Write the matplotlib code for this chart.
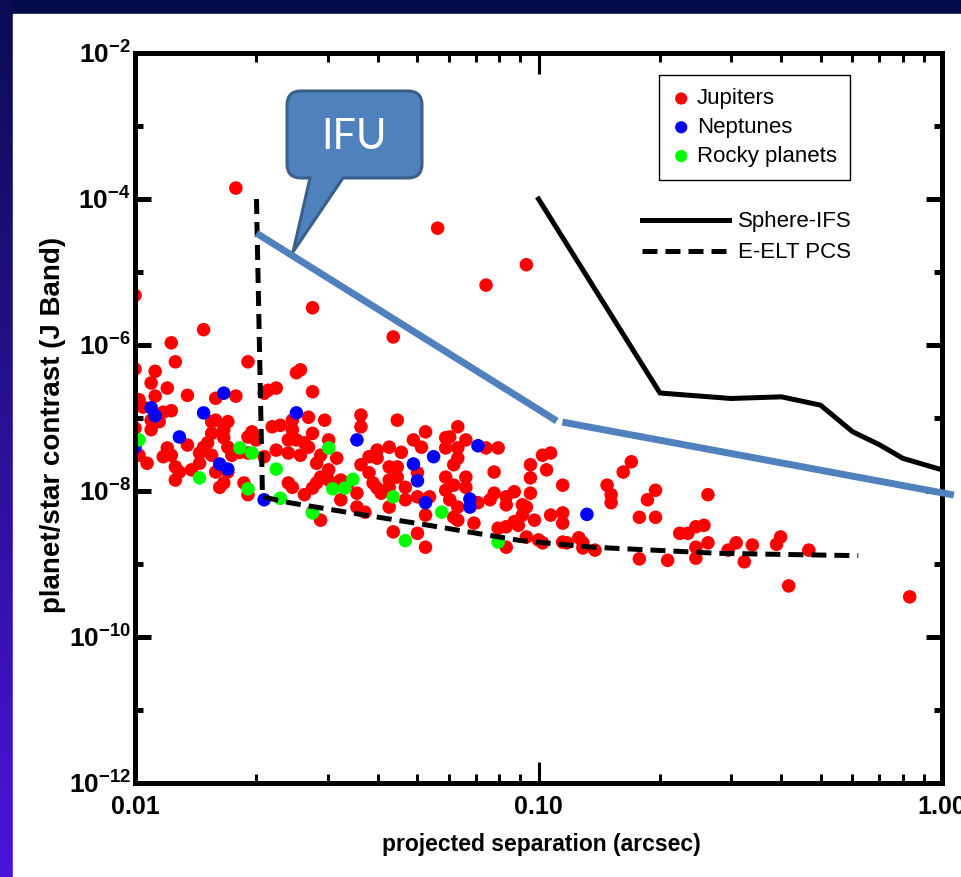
import numpy as np
import matplotlib
matplotlib.use('Agg')
import matplotlib.pyplot as plt
import matplotlib.transforms as mtransforms
from matplotlib.path import Path
from matplotlib.patches import PathPatch, Rectangle
from matplotlib.colors import LinearSegmentedColormap
from matplotlib.ticker import FixedLocator, NullFormatter

plt.rcParams['font.family'] = ['Liberation Sans', 'DejaVu Sans']
plt.rcParams['mathtext.fontset'] = 'custom'
plt.rcParams['mathtext.rm'] = 'Liberation Sans:bold'
plt.rcParams['mathtext.bf'] = 'Liberation Sans:bold'

# planets: log10(separation / arcsec), log10(contrast)
jup_logsep = [-1.91, -1.90, -2.00, -1.95, -1.72, -1.60, -1.59, -1.96, -1.92, -1.95,
              -1.99, -1.98, -1.87, -1.80, -1.75, -1.68, -1.67, -1.65, -1.56, -1.93,
              -1.91, -1.96, -1.94, -2.00, -1.96, -1.81, -1.80, -1.77, -1.81, -1.78,
              -1.78, -1.83, -1.82, -1.87, -1.92, -1.93, -1.91, -1.97, -1.99, -1.90,
              -1.89, -1.90, -1.86, -1.84, -1.84, -1.81, -1.77, -1.76, -1.72, -1.71,
              -1.70, -1.74, -1.72, -1.80, -1.77, -1.78, -1.79, -1.73, -1.72, -1.68,
              -1.66, -1.64, -1.61, -1.61, -1.57, -1.56, -1.53, -1.52, -1.50, -1.65,
              -1.62, -1.60, -1.58, -1.57, -1.62, -1.59, -1.55, -1.54, -1.52, -1.62,
              -1.61, -1.58, -1.55, -1.54, -1.56, -1.52, -1.49, -1.47, -1.45, -1.49,
              -1.45, -1.43, -1.44, -1.42, -1.40, -1.40, -1.42, -1.41, -1.40, -1.37,
              -1.34, -1.31, -1.29, -1.28, -1.35, -1.44, -1.44, -1.37, -1.35, -1.35,
              -1.33, -1.30, -1.37, -1.37, -1.39, -1.37, -1.33, -1.30, -1.28, -1.28,
              -1.30, -1.36, -1.54, -1.56, -2.00, -1.83, -1.56, -1.36, -1.75, -1.25,
              -1.03, -1.13, -1.23, -1.22, -1.20, -1.18, -1.23, -1.20, -1.21, -1.20,
              -1.23, -1.23, -1.21, -1.18, -1.18, -1.27, -1.22, -1.20, -1.15, -1.21,
              -1.20, -1.16, -1.13, -1.10, -1.11, -1.11, -1.12, -1.10, -1.08, -1.06,
              -1.05, -1.08, -1.08, -1.06, -1.08, -1.04, -1.03, -1.04, -1.01, -1.02,
              -1.02, -1.02, -0.99, -0.97, -0.98, -0.94, -0.97, -0.94, -0.94, -1.03,
              -1.00, -0.99, -0.94, -0.93, -0.90, -0.89, -0.89, -0.86, -0.83, -0.82,
              -0.82, -0.79, -0.77, -0.75, -0.71, -0.73, -0.71, -0.65, -0.63, -0.61,
              -0.59, -0.58, -0.58, -0.61, -0.61, -0.68, -0.53, -0.51, -0.49, -0.47,
              -0.41, -0.40, -0.33, -0.38, -0.08, -0.75]
jup_logc = [-5.97, -6.23, -6.33, -6.36, -6.23, -6.38, -6.34, -6.52, -6.59, -6.70,
            -6.75, -6.85, -6.69, -6.73, -6.70, -6.66, -6.62, -6.59, -6.64, -6.92,
            -6.90, -7.03, -7.05, -7.14, -7.16, -7.05, -7.03, -7.05, -7.21, -7.16,
            -7.27, -7.40, -7.34, -7.37, -7.41, -7.53, -7.51, -7.62, -7.51, -7.67,
            -7.74, -7.85, -7.71, -7.62, -7.48, -7.51, -7.40, -7.51, -7.26, -7.19,
            -7.30, -7.47, -7.48, -7.74, -7.74, -7.89, -7.95, -7.89, -8.05, -7.53,
            -7.12, -7.10, -7.03, -7.16, -6.99, -7.21, -7.03, -7.30, -7.55, -7.44,
            -7.30, -7.30, -7.34, -7.40, -7.48, -7.51, -7.62, -7.51, -7.71, -7.89,
            -7.95, -8.05, -7.89, -7.81, -7.96, -7.85, -7.85, -7.88, -8.03, -8.12,
            -8.22, -8.29, -7.64, -7.53, -7.44, -7.55, -7.75, -7.89, -7.96, -7.40,
            -7.47, -7.30, -7.40, -7.19, -7.03, -6.96, -7.12, -7.67, -7.67, -7.81,
            -7.95, -7.75, -7.85, -7.95, -8.03, -8.22, -8.12, -8.08, -8.33, -8.77,
            -8.58, -8.56, -8.40, -8.29, -5.32, -5.79, -5.49, -5.89, -3.85, -4.40,
            -4.90, -5.18, -7.27, -7.26, -7.12, -7.30, -7.41, -7.41, -7.64, -7.55,
            -7.81, -7.99, -7.92, -7.81, -7.95, -8.08, -8.12, -8.22, -8.16, -8.36,
            -8.40, -8.44, -7.41, -7.41, -7.74, -8.03, -8.12, -8.51, -8.49, -8.42,
            -8.47, -8.77, -8.08, -8.01, -8.19, -8.19, -8.22, -8.33, -8.40, -8.03,
            -7.82, -7.64, -7.51, -7.48, -7.71, -7.92, -8.33, -8.30, -8.44, -8.63,
            -8.67, -8.71, -8.70, -8.71, -8.64, -8.71, -8.78, -8.81, -7.92, -8.05,
            -8.16, -7.74, -7.60, -8.36, -8.36, -8.12, -7.99, -8.58, -8.58, -8.49,
            -8.47, -8.05, -8.71, -8.77, -8.92, -8.95, -8.81, -8.71, -8.97, -8.74,
            -8.73, -8.63, -8.81, -9.30, -9.45, -8.93]

nep_logsep = [-1.78, -1.96, -1.95, -1.83, -1.89, -1.79, -1.77, -1.68, -1.60, -1.45,
              -1.31, -1.30, -1.28, -1.26, -1.15, -1.17, -1.17, -0.88, -2.00]
nep_logc = [-6.66, -6.86, -6.97, -6.93, -7.26, -7.63, -7.70, -8.12, -6.93, -7.30,
            -7.63, -7.86, -8.16, -7.53, -7.38, -8.11, -8.22, -8.32, -7.40]

rock_logsep = [-1.99, -1.74, -1.71, -1.84, -1.72, -1.65, -1.64, -1.56, -1.52, -1.51,
               -1.48, -1.46, -1.36, -1.33, -1.24, -1.10]
rock_logc = [-7.30, -7.41, -7.48, -7.82, -7.97, -7.70, -8.10, -8.30, -7.41, -7.97,
             -7.96, -7.84, -8.08, -8.68, -8.29, -8.70]

# instrument curves (arcsec, contrast)
sphere_sep = [0.10, 0.20, 0.30, 0.40, 0.50, 0.60, 0.70, 0.80, 1.00]
sphere_con = [1.0e-4, 2.2e-7, 1.85e-7, 1.95e-7, 1.5e-7, 6.5e-8, 4.3e-8, 2.8e-8, 1.95e-8]

pcs_sep = [0.0200, 0.0207, 0.0242, 0.0316, 0.0516, 0.090, 0.136, 0.28, 0.62]
pcs_con = [1.0e-4, 8.3e-9, 6.9e-9, 5.4e-9, 3.5e-9, 2.1e-9, 1.7e-9, 1.4e-9, 1.3e-9]

ifu_sep1 = [0.0200, 0.111]
ifu_con1 = [3.4e-5, 9.1e-8]
ifu_sep2 = [0.1146, 1.07]
ifu_con2 = [8.8e-8, 8.8e-9]

xtick_labels = ['0.01', '0.10', '1.00']
ytick_exps = [12, 10, 8, 6, 4, 2]

W, H = 961, 877


def fx(px):
    return px / W


def fy(py):
    return 1 - py / H


fig = plt.figure(figsize=(W / 100, H / 100), dpi=100)
fig.patch.set_facecolor('#020B4C')

# slide background
bg = fig.add_axes([0, 0, 1, 1], zorder=0)
grad = LinearSegmentedColormap.from_list('side', ['#0A0C52', '#4A14DA'])
bg.imshow(np.linspace(0, 1, 256).reshape(-1, 1), cmap=grad, extent=(0, 13, H, 0), aspect='auto')
bg.add_patch(Rectangle((13, 14), W - 13, H - 14, color='white'))
bg.set_xlim(0, W)
bg.set_ylim(H, 0)
bg.axis('off')

ax = fig.add_axes([fx(135), fy(783), (942 - 135) / W, (783 - 53) / H], zorder=1)
ax.set_facecolor('white')

msize = 95
h_j = ax.scatter(10 ** np.array(jup_logsep), 10 ** np.array(jup_logc), s=msize, c='#FF0000',
                 edgecolors='none', label='Jupiters', zorder=2)
h_n = ax.scatter(10 ** np.array(nep_logsep), 10 ** np.array(nep_logc), s=msize, c='#0000FF',
                 edgecolors='none', label='Neptunes', zorder=2.1)
h_r = ax.scatter(10 ** np.array(rock_logsep), 10 ** np.array(rock_logc), s=msize, c='#00FF00',
                 edgecolors='none', label='Rocky planets', zorder=2.2)

l_sph, = ax.plot(sphere_sep, sphere_con, color='black', lw=3.6, label='Sphere-IFS', zorder=3)
l_pcs, = ax.plot(pcs_sep, pcs_con, color='black', lw=3.6, dashes=(3, 1.6), label='E-ELT PCS', zorder=3)
ax.plot(ifu_sep1, ifu_con1, color='#4F81BD', lw=5, solid_capstyle='butt', zorder=4)
ax.plot(ifu_sep2, ifu_con2, color='#4F81BD', lw=5, solid_capstyle='butt', zorder=4, clip_on=False)

ax.set_xscale('log')
ax.set_yscale('log')
ax.set_xlim(0.01, 1.0)
ax.set_ylim(1e-12, 1e-2)

ax.xaxis.set_major_locator(FixedLocator([0.01, 0.1, 1.0]))
ax.xaxis.set_minor_locator(FixedLocator([k * d for d in (0.01, 0.1) for k in range(2, 10)]))
ax.set_xticklabels(xtick_labels, fontsize=18, fontweight='bold')
ax.xaxis.set_minor_formatter(NullFormatter())
# labels sit a little left of their ticks in the original
for lab, dx in zip(ax.get_xticklabels(), (-18, -5, -4)):
    lab.set_transform(lab.get_transform() + mtransforms.ScaledTranslation(dx / 100, 0, fig.dpi_scale_trans))

ax.yaxis.set_major_locator(FixedLocator([10.0 ** -k for k in ytick_exps]))
ax.yaxis.set_minor_locator(FixedLocator([1e-11, 1e-9, 1e-7, 1e-5, 1e-3]))
ax.set_yticklabels([r'$\mathbf{10^{-%d}}$' % k for k in ytick_exps], fontsize=19)
ax.yaxis.set_minor_formatter(NullFormatter())

ax.tick_params(which='both', direction='in', top=True, right=True, color='black')
ax.tick_params(axis='y', which='major', length=11.5, width=3.6, pad=3)
ax.tick_params(axis='y', which='minor', length=5.5, width=3.6)
ax.tick_params(axis='x', which='major', length=15, width=2.2, pad=9)
ax.tick_params(axis='x', which='minor', length=6.5, width=2.2)
for s in ax.spines.values():
    s.set_linewidth(3.6)

ax.set_xlabel('projected separation (arcsec)', fontsize=16.5, fontweight='bold')
ax.xaxis.set_label_coords(0.503, -0.068)
ax.set_ylabel('planet/star contrast (J Band)', fontsize=20, fontweight='bold')
ax.yaxis.set_label_coords(-0.0855, 0.49)

leg1 = ax.legend(handles=[h_j, h_n, h_r], loc='upper left', bbox_to_anchor=(fx(659), fy(75)),
                 bbox_transform=fig.transFigure, frameon=True, fancybox=False, edgecolor='black',
                 framealpha=1, borderaxespad=0, borderpad=0.6, labelspacing=0.35,
                 handlelength=0.8, handletextpad=0.3, prop={'size': 16}, scatterpoints=1,
                 markerscale=0.9)
leg1.get_frame().set_linewidth(1.0)
ax.add_artist(leg1)
ax.legend(handles=[l_sph, l_pcs], loc='upper left', bbox_to_anchor=(fx(638), fy(207)),
          bbox_transform=fig.transFigure, frameon=False, borderaxespad=0, borderpad=0.2,
          handlelength=3.9, handletextpad=0.4, labelspacing=0.45, prop={'size': 16})

# IFU callout
ov = fig.add_axes([0, 0, 1, 1], zorder=2)
ov.set_xlim(0, W)
ov.set_ylim(H, 0)
ov.axis('off')
x0, x1, y0, y1, r = 287, 422, 91, 178, 14
verts = [(x0 + r, y0), (x1 - r, y0), (x1, y0), (x1, y0 + r), (x1, y1 - r), (x1, y1), (x1 - r, y1),
         (343, y1), (293, 252), (310, y1), (x0 + r, y1), (x0, y1), (x0, y1 - r), (x0, y0 + r),
         (x0, y0), (x0 + r, y0), (x0 + r, y0)]
codes = [Path.MOVETO, Path.LINETO, Path.CURVE3, Path.CURVE3, Path.LINETO, Path.CURVE3, Path.CURVE3,
         Path.LINETO, Path.LINETO, Path.LINETO, Path.LINETO, Path.CURVE3, Path.CURVE3, Path.LINETO,
         Path.CURVE3, Path.CURVE3, Path.CLOSEPOLY]
ov.add_patch(PathPatch(Path(verts, codes), facecolor='#4F81BD', edgecolor='#3A5F8B', lw=2.2))
ov.text(354, 137, 'IFU', color='white', fontsize=30, family='Lato', fontweight='normal',
        ha='center', va='center')

fig.savefig('out.png', dpi=100, facecolor=fig.get_facecolor())
